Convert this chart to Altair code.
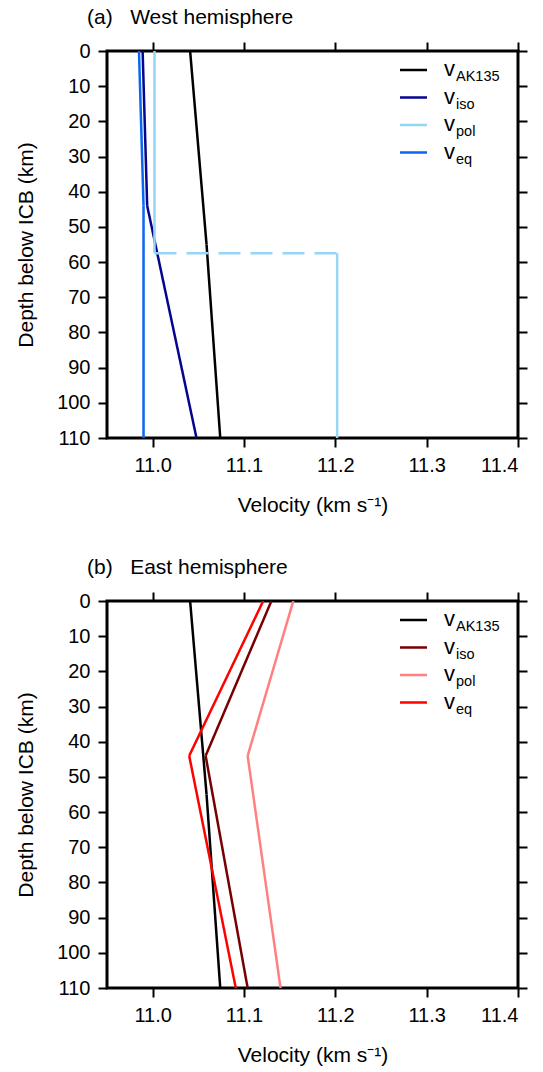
import altair as alt
import pandas as pd

FONT = "Liberation Sans"

# ---- data ----
ak_depth = [0, 55, 110]
ak_v = [11.041, 11.059, 11.074]

# West hemisphere
w_iso_depth = [0, 44, 110]
w_iso_v = [10.989, 10.994, 11.048]
w_pol_depth = [0, 57.5, 57.5, 110]
w_pol_v = [11.002, 11.002, 11.202, 11.202]
w_pol_style = ["solid", "solid", "dashed", "solid"]  # style of segment ending at each point
w_eq_depth = [0, 44, 110]
w_eq_v = [10.985, 10.990, 10.990]

# East hemisphere
e_iso_depth = [0, 44, 110]
e_iso_v = [11.130, 11.058, 11.104]
e_pol_depth = [0, 44, 110]
e_pol_v = [11.154, 11.104, 11.140]
e_eq_depth = [0, 44, 110]
e_eq_v = [11.121, 11.040, 11.091]

series = ["AK135", "iso", "pol", "eq"]
west_colors = ["#000000", "#05058f", "#95d5f6", "#0a66f2"]
east_colors = ["#000000", "#780000", "#ff8080", "#ff0000"]

x_ticks = [11.0, 11.1, 11.2, 11.3, 11.4]
y_ticks = list(range(0, 111, 10))

W, H = 411, 387


def make_rows(name, depths, vals, styles=None):
    rows = []
    for i in range(1, len(depths)):
        st = styles[i] if styles else "solid"
        rows.append(dict(series=name, seg=f"{name}-{i}", style=st, idx=0,
                         depth=depths[i - 1], v=vals[i - 1]))
        rows.append(dict(series=name, seg=f"{name}-{i}", style=st, idx=1,
                         depth=depths[i], v=vals[i]))
    return rows


def panel(title, curves, colors):
    rows = []
    for name, d, v, s in curves:
        rows += make_rows(name, d, v, s)
    df = pd.DataFrame(rows)

    xscale = alt.Scale(domain=[10.95, 11.4], nice=False, zero=False)
    yscale = alt.Scale(domain=[0, 110], reverse=True, nice=False, zero=False)

    lines = alt.Chart(df).mark_line(strokeWidth=2.5, clip=True).encode(
        x=alt.X("v:Q", scale=xscale,
                axis=alt.Axis(orient="bottom", values=x_ticks, format=".1f",
                              title="Velocity (km s\u207b\u00b9)", labelPadding=8,
                              titlePadding=19)),
        y=alt.Y("depth:Q", scale=yscale,
                axis=alt.Axis(orient="left", values=y_ticks,
                              title="Depth below ICB (km)", labelPadding=8,
                              titlePadding=20)),
        color=alt.Color("series:N", scale=alt.Scale(domain=series, range=colors),
                        legend=None),
        detail="seg:N",
        strokeDash=alt.StrokeDash("style:N",
                                  scale=alt.Scale(domain=["solid", "dashed"],
                                                  range=[[1, 0], [22, 10]]),
                                  legend=None),
        order=alt.Order("idx:Q"),
    )

    frame = alt.Chart(df).mark_line(opacity=0).encode(
        x=alt.X("v:Q", scale=xscale,
                axis=alt.Axis(orient="top", values=x_ticks, labels=False, title=None)),
        y=alt.Y("depth:Q", scale=yscale,
                axis=alt.Axis(orient="right", values=y_ticks, labels=False, title=None)),
        detail="seg:N",
    )

    legend_layers = []
    row_y = [19, 46.5, 74, 101.5]
    for i, (name, col) in enumerate(zip(series, colors)):
        ldf = pd.DataFrame({"sub": [name]})
        ry = row_y[i]
        legend_layers.append(
            alt.Chart(ldf).mark_rule(strokeWidth=2.5, color=col).encode(
                x=alt.value(293), x2=alt.value(320), y=alt.value(ry)))
        legend_layers.append(
            alt.Chart(ldf).mark_text(align="left", baseline="alphabetic",
                                     fontSize=22, font=FONT, color="black").encode(
                x=alt.value(337), y=alt.value(ry + 6), text=alt.value("v")))
        legend_layers.append(
            alt.Chart(ldf).mark_text(align="left", baseline="alphabetic",
                                     fontSize=14.5, font=FONT, color="black").encode(
                x=alt.value(349), y=alt.value(ry + 11), text="sub:N"))

    ch = alt.layer(lines, frame, *legend_layers).resolve_axis(
        x="independent", y="independent"
    ).properties(
        width=W, height=H,
        title=alt.TitleParams(title, anchor="start", frame="group", dx=-20,
                              fontSize=21, fontWeight="normal", font=FONT,
                              color="black", offset=13),
    )
    return ch


west = panel("(a)\u00a0\u00a0\u00a0West hemisphere", [
    ("AK135", ak_depth, ak_v, None),
    ("iso", w_iso_depth, w_iso_v, None),
    ("pol", w_pol_depth, w_pol_v, w_pol_style),
    ("eq", w_eq_depth, w_eq_v, None),
], west_colors)

east = panel("(b)\u00a0\u00a0\u00a0East hemisphere", [
    ("AK135", ak_depth, ak_v, None),
    ("iso", e_iso_depth, e_iso_v, None),
    ("pol", e_pol_depth, e_pol_v, None),
    ("eq", e_eq_depth, e_eq_v, None),
], east_colors)

chart = alt.vconcat(west, east, spacing=38).resolve_scale(
    color="independent", strokeDash="independent"
).properties(
    padding={"left": 14, "top": 5, "right": 5, "bottom": 5},
    background="white",
).configure_view(
    stroke="black", strokeWidth=3
).configure_axis(
    labelFont=FONT, titleFont=FONT, labelFontSize=20, titleFontSize=21,
    labelColor="black", titleColor="black", titleFontWeight="normal",
    tickColor="black", tickWidth=2, tickSize=9, domain=False, grid=False,
)

chart.save("out.html", embed_options={"renderer": "svg", "actions": False})
